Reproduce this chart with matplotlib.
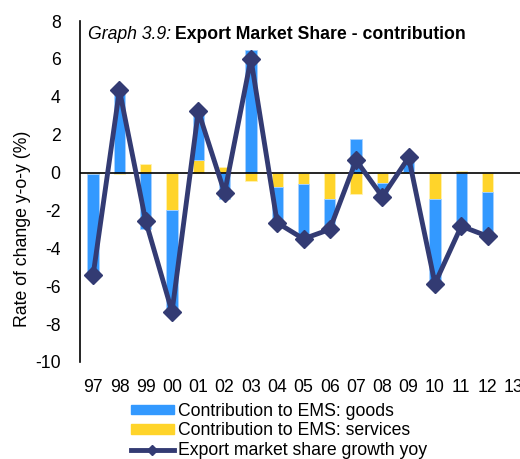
import numpy as np
import matplotlib.pyplot as plt
from matplotlib.lines import Line2D
from matplotlib.patches import Patch

plt.rcParams['font.family'] = ['Liberation Sans', 'DejaVu Sans']
plt.rcParams['axes.unicode_minus'] = False

# data
years = ['97', '98', '99', '00', '01', '02', '03', '04', '05', '06', '07', '08', '09', '10', '11', '12', '13']
goods = [-5.3, 4.45, -3.0, -5.35, 2.6, -1.37, 6.46, -1.95, -2.9, -1.65, 1.76, -0.75, 0.75, -4.45, -2.93, -2.35, np.nan]
services = [-0.05, -0.1, 0.44, -2.0, 0.65, 0.3, -0.46, -0.75, -0.6, -1.37, -1.11, -0.53, 0.05, -1.41, 0.1, -1.0, np.nan]
ems_total = [-5.4, 4.35, -2.57, -7.35, 3.24, -1.07, 6.0, -2.65, -3.5, -3.0, 0.65, -1.28, 0.8, -5.86, -2.83, -3.36, np.nan]

blue = '#3399FF'
yellow = '#FFD42A'
navy = '#333B73'
fs = 12.7

goods = np.array(goods)
services = np.array(services)
x = np.arange(len(years))

# stacking like excel: positives and negatives stack separately, services first
s_pos = np.where(services > 0, services, 0)
s_neg = np.where(services < 0, services, 0)
g_base = np.where(goods >= 0, s_pos, s_neg)

fig = plt.figure(figsize=(5.2, 4.59), dpi=100)
ax = fig.add_axes([80 / 520, 97 / 459, 447 / 520, 341 / 459])

w = 0.43
ax.bar(x, services, width=w, color=yellow, edgecolor='#FFF2B0', linewidth=0.6, zorder=2)
ax.bar(x, goods, width=w, bottom=g_base, color=blue, edgecolor='#A8D2FF', linewidth=0.6, zorder=2)
ax.axhline(0, color='black', linewidth=1.2, zorder=3)
ax.plot(x, ems_total, color=navy, linewidth=3.5, marker='D', markersize=9, zorder=4)

ax.set_xlim(-0.5, len(years) - 0.5)
ax.set_ylim(-10, 8)
ax.set_yticks(range(-10, 9, 2))
ax.set_xticks(x)
ax.set_xticklabels(years)
ax.tick_params(axis='both', length=0, labelsize=fs)
ax.tick_params(axis='x', pad=12)
ax.tick_params(axis='y', pad=14)
for s in ['top', 'right', 'bottom']:
    ax.spines[s].set_visible(False)
ax.spines['left'].set_linewidth(1.2)
ax.set_ylabel('Rate of change y-o-y (%)', fontsize=fs)
ax.yaxis.set_label_coords(-0.11, 0.39)

# title in two parts: italic + bold
t1 = ax.text(0.018, 0.985, 'Graph 3.9:', transform=ax.transAxes, fontsize=fs,
             style='italic', va='top', ha='left')
fig.canvas.draw()
bb = t1.get_window_extent().transformed(ax.transAxes.inverted())
ax.text(bb.x1 + 0.008, 0.985, 'Export Market Share - contribution', transform=ax.transAxes,
        fontsize=fs, fontweight='bold', va='top', ha='left')

handles = [Patch(color=blue, label='Contribution to EMS: goods'),
           Patch(color=yellow, label='Contribution to EMS: services'),
           Line2D([0], [0], color=navy, linewidth=3.5, marker='D', markersize=5,
                  label='Export market share growth yoy')]
fig.legend(handles=handles, loc='upper left', bbox_to_anchor=(122 / 520, 1 - 394 / 459),
           frameon=False, fontsize=fs, handlelength=2.45, handleheight=0.45,
           handletextpad=0.25, labelspacing=0.15, borderpad=0)

fig.savefig('out.png', dpi=100)
